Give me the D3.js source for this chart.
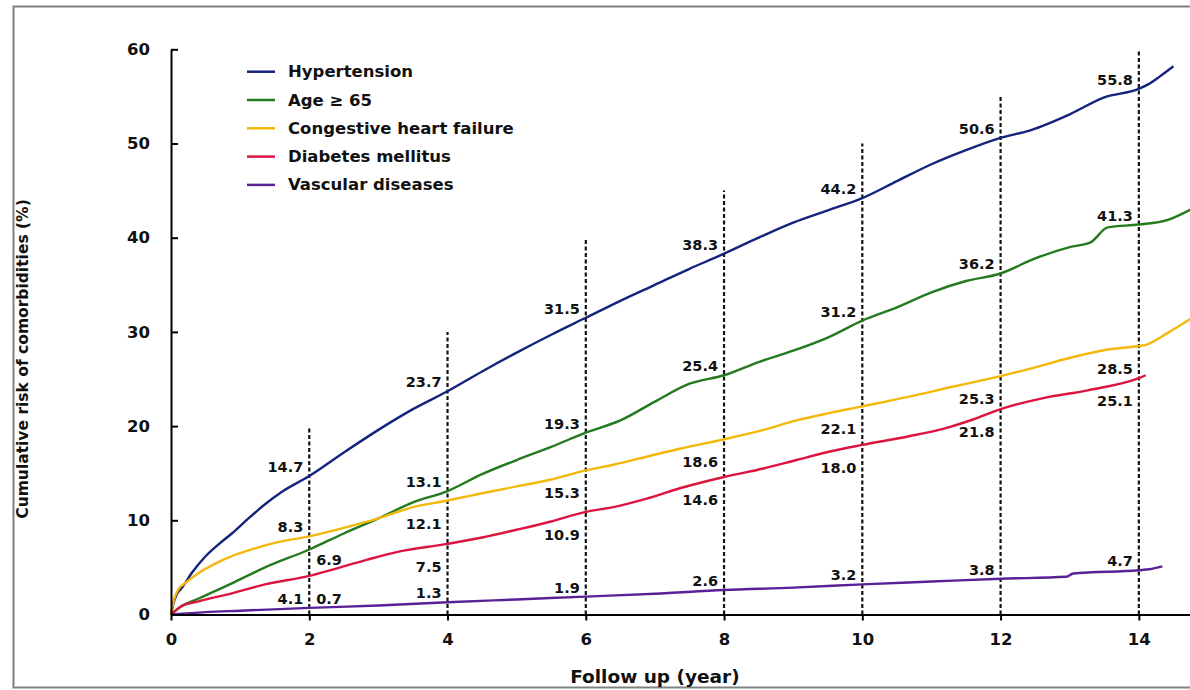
<!DOCTYPE html>
<html>
<head>
<meta charset="utf-8">
<script src="https://cdn.jsdelivr.net/npm/d3@7"></script>
<style>
  html, body { margin: 0; padding: 0; background: #fff; }
  svg { display: block; }
  text { font-family: "DejaVu Sans", sans-serif; font-weight: bold; fill: #111; }
</style>
</head>
<body>
<svg id="chart" width="1190" height="690"></svg>
<script>
// ---------- data ----------
const seriesNames = ["Hypertension", "Age \u2265 65", "Congestive heart failure", "Diabetes mellitus", "Vascular diseases"];
const seriesColors = ["#16237c", "#237a1f", "#f4b80a", "#dc1440", "#5a2196"];

const hypertension = [[0,0],[0.04,1.3],[0.08,2.1],[0.155,2.8],[0.3,4.4],[0.49,6.1],[0.68,7.4],[0.88,8.6],[1.12,10.2],[1.36,11.7],[1.6,13.0],[2,14.7],[2.5,17.2],[3,19.6],[3.5,21.8],[4,23.7],[4.5,25.8],[5,27.8],[5.5,29.7],[6,31.5],[6.5,33.3],[7,35.0],[7.5,36.7],[8,38.3],[8.5,40.0],[9,41.6],[9.5,42.9],[10,44.2],[10.5,46.0],[11,47.8],[11.5,49.3],[12,50.6],[12.43,51.4],[13,53.1],[13.5,54.9],[14,55.8],[14.14,56.3],[14.3,57.1],[14.5,58.2]];
const age65 = [[0,0],[0.155,0.9],[0.4,1.7],[0.88,3.3],[1.36,5.0],[2,6.9],[2.5,8.6],[3,10.2],[3.5,11.9],[4,13.1],[4.5,14.9],[5,16.4],[5.5,17.8],[6,19.3],[6.5,20.6],[7,22.6],[7.5,24.5],[8,25.4],[8.5,26.8],[9,28.0],[9.5,29.4],[10,31.2],[10.5,32.6],[11,34.2],[11.5,35.4],[12,36.2],[12.5,37.8],[13,39.0],[13.3,39.5],[13.55,41.1],[14,41.4],[14.42,41.9],[14.75,43.0]];
const chf = [[0,0],[0.04,1.5],[0.11,2.7],[0.2,3.3],[0.4,4.4],[0.64,5.4],[0.88,6.2],[1.12,6.8],[1.5,7.6],[2,8.3],[2.5,9.2],[3,10.2],[3.5,11.4],[4,12.1],[4.52,12.9],[5,13.6],[5.48,14.3],[6,15.3],[6.4,15.9],[6.88,16.75],[7.36,17.6],[8,18.6],[8.57,19.6],[9.05,20.6],[9.53,21.4],[10,22.1],[10.66,23.1],[11.32,24.2],[12,25.3],[12.43,26.1],[12.98,27.2],[13.53,28.1],[14,28.5],[14.09,28.6],[14.42,29.9],[14.75,31.4]];
const diabetes = [[0,0],[0.155,0.9],[0.4,1.4],[0.88,2.25],[1.36,3.2],[2,4.1],[2.35,4.8],[2.83,5.8],[3.31,6.7],[4,7.5],[4.52,8.2],[5,9.0],[5.48,9.85],[6,10.9],[6.4,11.4],[6.88,12.3],[7.36,13.4],[8,14.6],[8.57,15.5],[9.05,16.4],[9.53,17.3],[10,18.0],[10.66,18.9],[11.26,19.9],[11.6,20.7],[12,21.8],[12.6,22.95],[13.26,23.8],[14,25.1],[14.1,25.4]];
const vascular = [[0,0],[0.5,0.25],[1,0.4],[2,0.7],[3,0.95],[4,1.3],[5,1.6],[6,1.9],[7,2.2],[8,2.6],[9,2.85],[10,3.2],[11,3.5],[12,3.8],[12.95,4.0],[13.05,4.35],[14,4.7],[14.15,4.8],[14.34,5.1]];
const seriesData = [hypertension, age65, chf, diabetes, vascular];

const markYears = [2, 4, 6, 8, 10, 12, 14];
const markTops = [20, 30, 40, 45, 50, 55, 60];
const labelsHypertension = ["14.7","23.7","31.5","38.3","44.2","50.6","55.8"];
const labelsAge = ["6.9","13.1","19.3","25.4","31.2","36.2","41.3"];
const labelsChf = ["8.3","12.1","15.3","18.6","22.1","25.3","28.5"];
const labelsDiabetes = ["4.1","7.5","10.9","14.6","18.0","21.8","25.1"];
const labelsVascular = ["0.7","1.3","1.9","2.6","3.2","3.8","4.7"];
const seriesLabels = [labelsHypertension, labelsAge, labelsChf, labelsDiabetes, labelsVascular];
// placement: side (L/R of the dashed line) and above/below the curve
const placeHypertension = ["La","La","La","La","La","La","La"];
const placeAge = ["Rb","La","La","La","La","La","La"];
const placeChf = ["La","Lb","Lb","Lb","Lb","Lb","Lb"];
const placeDiabetes = ["Lb","Lb","Lb","Lb","Lb","Lb","Lb"];
const placeVascular = ["Ra","La","La","La","La","La","La"];
const seriesPlace = [placeHypertension, placeAge, placeChf, placeDiabetes, placeVascular];

const xTicks = [0, 2, 4, 6, 8, 10, 12, 14];
const yTicks = [0, 10, 20, 30, 40, 50, 60];
const xTitle = "Follow up (year)";
const yTitle = "Cumulative risk of comorbidities (%)";

// ---------- drawing ----------
const svg = d3.select("#chart");
const W = 1190, H = 690;

// frame
svg.append("rect").attr("x", 13.5).attr("y", 6.5).attr("width", W + 10).attr("height", 681)
  .attr("fill", "none").attr("stroke", "#808080").attr("stroke-width", 2);

const x = d3.scaleLinear().domain([0, 14.74]).range([171, 1190]);
const y = d3.scaleLinear().domain([0, 60]).range([614.5, 49.3]);

// dashed reference lines
svg.append("g").selectAll("line").data(markYears).join("line")
  .attr("x1", d => x(d)).attr("x2", d => x(d))
  .attr("y1", y(0)).attr("y2", (d, i) => y(markTops[i]))
  .attr("stroke", "#111").attr("stroke-width", 2.2).attr("stroke-dasharray", "4,2.5");

// curves
const line = d3.line().x(d => x(d[0])).y(d => y(d[1])).curve(d3.curveMonotoneX);
svg.append("g").selectAll("path").data(seriesData).join("path")
  .attr("d", line).attr("fill", "none")
  .attr("stroke", (d, i) => seriesColors[i]).attr("stroke-width", 2.4)
  .attr("stroke-linejoin", "round");

// axes
const yAxis = d3.axisLeft(y).tickValues(yTicks).tickSizeInner(-7).tickSizeOuter(0).tickPadding(21);
const gy = svg.append("g").attr("transform", `translate(${x(0)},0)`).call(yAxis);
const xAxis = d3.axisBottom(x).tickValues(xTicks).tickSizeInner(6).tickSizeOuter(0).tickPadding(13);
const gx = svg.append("g").attr("transform", `translate(0,${y(0)})`).call(xAxis);
[gx, gy].forEach(g => {
  g.select(".domain").attr("stroke", "#000").attr("stroke-width", 2);
  g.selectAll(".tick line").attr("stroke", "#000").attr("stroke-width", 2);
  g.selectAll(".tick text").style("font-family", "DejaVu Sans, sans-serif")
    .style("font-weight", "bold").style("font-size", "16.5px").attr("fill", "#111");
});

// value labels
const labelData = [];
seriesLabels.forEach((arr, si) => arr.forEach((txt, j) => {
  labelData.push({ txt, yr: markYears[j], val: +txt, place: seriesPlace[si][j] });
}));
svg.append("g").selectAll("text").data(labelData).join("text")
  .attr("x", d => d.place[0] === "L" ? x(d.yr) - 6 : x(d.yr) + 7)
  .attr("y", d => y(d.val) + (d.place[1] === "a" ? -9 : (d.place[0] === "R" ? 10 : 23)))
  .attr("text-anchor", d => d.place[0] === "L" ? "end" : "start")
  .attr("dominant-baseline", "central")
  .style("font-size", "14.5px")
  .text(d => d.txt);

// legend
const lg = svg.append("g");
seriesNames.forEach((name, i) => {
  const cy = 71.7 + i * 28.3;
  lg.append("line").attr("x1", 247).attr("x2", 275).attr("y1", cy).attr("y2", cy)
    .attr("stroke", seriesColors[i]).attr("stroke-width", 2.5);
  lg.append("text").attr("x", 288).attr("y", cy).attr("dominant-baseline", "central")
    .style("font-size", "16.5px").text(name);
});

// axis titles
svg.append("text").attr("x", x(7)).attr("y", 683).attr("text-anchor", "middle")
  .style("font-size", "18.5px").text(xTitle);
svg.append("text").attr("transform", `translate(28,359) rotate(-90)`).attr("text-anchor", "middle")
  .style("font-size", "15.5px").text(yTitle);
</script>
</body>
</html>
